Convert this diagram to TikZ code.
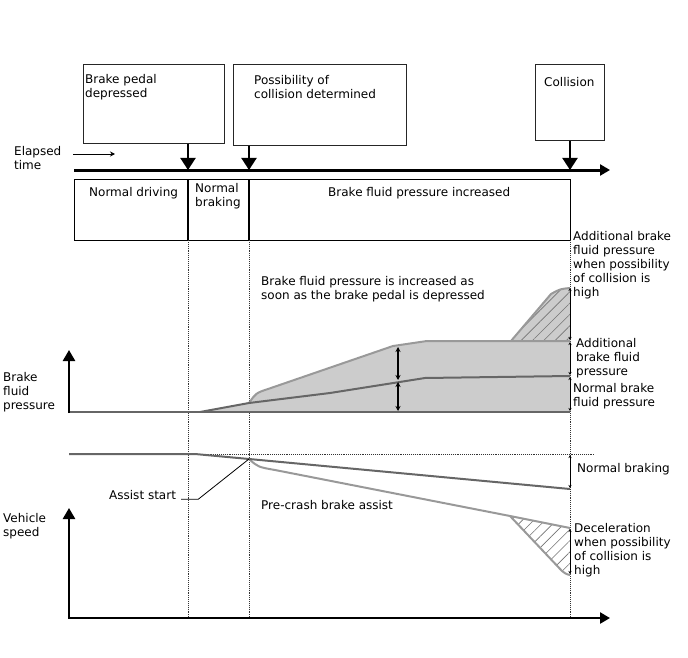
\documentclass[tikz,border=0pt]{standalone}
\usepackage{fontspec}
\setmainfont{DejaVu Sans}
\usetikzlibrary{arrows.meta}
\usetikzlibrary{patterns.meta}
\usetikzlibrary{positioning}

\tikzset{
  evbox/.style={draw=black!85, line width=1pt, anchor=north west, inner sep=0pt},
  txt/.style={anchor=north west, inner sep=0pt, align=left, font=\fontsize{12}{14}\selectfont},
  droparrow/.style={line width=2pt, -{Triangle[length=12pt,width=15pt]}},
  axisarrow/.style={line width=2.5pt, -{Triangle[length=11pt,width=12pt]}},
  guide/.style={densely dotted, line width=0.9pt, black!80},
  normline/.style={draw=black!60, line width=2pt},
  assistline/.style={draw=black!40, line width=2pt},
  dimarrow/.style={line width=1.5pt, {Stealth[length=5pt,width=5pt]}-{Stealth[length=5pt,width=5pt]}},
  tickarrow/.style={line width=1pt, {Stealth[length=3pt,width=3pt]}-{Stealth[length=3pt,width=3pt]}},
  hatch/.style={pattern={Lines[angle=45,distance=8pt,line width=0.6pt]}, pattern color=black!55},
}

\begin{document}
\begin{tikzpicture}[x=1pt,y=-1pt]
	\useasboundingbox (0,0) rectangle (688,658);

	% events on the time axis
	\node[evbox, minimum width=141pt, minimum height=79pt] (pedal) at (83,64) {};
	\node[evbox, minimum width=173pt, minimum height=81pt] (determ) at (233,64) {};
	\node[evbox, minimum width=69pt, minimum height=76pt] (collide) at (535,64) {};
	\node[txt] (pedaltxt) at (85,74) {Brake pedal\\depressed};
	\node[txt] (determtxt) at (254,75) {Possibility of\\collision determined};
	\node[txt] (collidetxt) at (544,77) {Collision};

	\coordinate (tA) at (188,170);
	\coordinate (tB) at (249,170);
	\coordinate (tC) at (570,170);
	\coordinate (tstart) at (74,170);
	\coordinate (tend) at (610,170);
	\draw[line width=3pt, -{Triangle[length=10pt,width=11pt]}] (tstart) -- (tend);
	\draw[droparrow] (tA |- pedal.south) -- (tA);
	\draw[droparrow] (tB |- determ.south) -- (tB);
	\draw[droparrow] (tC |- collide.south) -- (tC);

	\node[txt] (elapsed) at (14,146) {Elapsed\\time};
	\draw[line width=0.8pt, -{Stealth[length=5pt,width=5pt]}] (73,154) -- (115,154);

	% phases
	\node[evbox, line width=1.3pt, draw=black, minimum width=496pt, minimum height=61pt] (phase) at (74,179) {};
	\draw[line width=1.3pt] (188,179) -- (188,240);
	\draw[line width=1.3pt] (249,179) -- (249,240);
	\node[txt] (ndrive) at (89,187) {Normal driving};
	\node[txt] (nbrake) at (195,183) {Normal\\braking};
	\node[txt] (increased) at (328,187) {Brake fluid pressure increased};

	\foreach \x in {188,249,570}
		\draw[guide] (\x,240) -- (\x,618);

	% brake fluid pressure
	\fill[black!20] (200,412) -- (249,403) .. controls (256,393) .. (268,389) -- (393,346) -- (427,341) -- (570,341) -- (570,412) -- cycle;
	\fill[black!20] (511,341) -- (551,294) .. controls (560,289) .. (570,288) -- (570,341) -- cycle;
	\fill[hatch] (511,341) -- (551,294) .. controls (560,289) .. (570,288) -- (570,341) -- cycle;
	\draw[assistline] (249,403) .. controls (256,393) .. (268,389) -- (393,346) -- (427,341) -- (570,341);
	\draw[assistline] (511,341) -- (551,294) .. controls (560,289) .. (570,288);
	\draw[normline] (69,412) -- (570,412);
	\draw[normline] (200,412) -- (249,403) -- (330,393) -- (425,378) -- (570,376);
	\draw[axisarrow] (69,413) -- (69,350);

	\draw[dimarrow] (398,347) -- (398,380);
	\draw[dimarrow] (398,382) -- (398,411);
	\draw[tickarrow] (570,288) -- (570,340);
	\draw[tickarrow] (570,342) -- (570,375);
	\draw[tickarrow] (570,377) -- (570,411);

	\node[txt] (pressure) at (3,372) {Brake\\fluid\\pressure};
	\node[txt] (asap) at (261,276) {Brake fluid pressure is increased as\\soon as the brake pedal is depressed};
	\node[txt] (addhigh) at (573,231) {Additional brake\\fluid pressure\\when possibility\\of collision is\\high};
	\node[txt] (addbrake) at (576,338) {Additional\\brake fluid\\pressure};
	\node[txt] (normbrake) at (573,383) {Normal brake\\fluid pressure};

	% vehicle speed
	\coordinate (astart) at (249,459);
	\draw[guide] (200,454) -- (595,454);
	\fill[white] (510,516) -- (562,571) .. controls (566,574) .. (570,575) -- (570,528) -- cycle;
	\fill[hatch] (510,516) -- (562,571) .. controls (566,574) .. (570,575) -- (570,528) -- cycle;
	\draw[assistline] (astart) .. controls (258,467) .. (275,470) -- (510,516) -- (570,528);
	\draw[assistline] (510,516) -- (562,571) .. controls (566,574) .. (570,575);
	\draw[normline] (69,454) -- (195,454) -- (astart) -- (570,489);
	\draw[tickarrow] (570,455) -- (570,488);
	\draw[tickarrow] (570,529) -- (570,574);
	\draw[line width=2.5pt, {Triangle[length=11pt,width=12pt]}-{Triangle[length=10pt,width=11pt]}] (69,508) -- (69,618) -- (610,618);

	\node[txt] (speed) at (3,513) {Vehicle\\speed};
	\node[txt] (assist) at (109,490) {Assist start};
	\draw[line width=0.8pt] ([xshift=5pt]assist.base east) -- ++(17,0) -- (astart);
	\node[txt] (precrash) at (261,500) {Pre-crash brake assist};
	\node[txt] (nbraking) at (577,463) {Normal braking};
	\node[txt] (decel) at (574,523) {Deceleration\\when possibility\\of collision is\\high};
\end{tikzpicture}
\end{document}
